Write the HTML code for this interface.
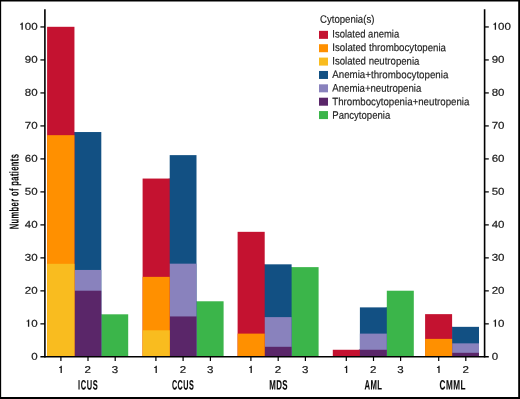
<!DOCTYPE html>
<html><head><meta charset="utf-8"><title>Cytopenia chart</title>
<style>
html,body{margin:0;padding:0;background:#fff;}
body{width:520px;height:399px;overflow:hidden;position:relative;font-family:"Liberation Sans",sans-serif;}
svg{position:absolute;left:0;top:0;display:block;will-change:transform;}
text{font-family:"Liberation Sans",sans-serif;fill:#1a1a1a;}
.n{font-size:9.9px;stroke:#1a1a1a;stroke-width:0.2px;}
.lg{font-size:10.8px;stroke:#1a1a1a;stroke-width:0.15px;}
.c{font-size:13.6px;font-weight:bold;fill:#0a0a0a;stroke:#0a0a0a;stroke-width:0.12px;}
</style></head><body>
<svg width="520" height="399" viewBox="0 0 520 399">
<rect x="0" y="0" width="520" height="399" fill="#fff"/>
<rect x="100.30" y="314.31" width="1.5" height="42.19" fill="#3BB54A"/>
<rect x="101.30" y="314.31" width="26.90" height="42.19" fill="#3BB54A"/>
<rect x="73.45" y="132.04" width="1.5" height="224.46" fill="#125083"/>
<rect x="73.45" y="269.94" width="1.5" height="86.56" fill="#8982BD"/>
<rect x="73.45" y="290.72" width="1.5" height="65.78" fill="#5A2669"/>
<rect x="74.45" y="132.04" width="26.85" height="224.46" fill="#125083"/>
<rect x="74.45" y="269.94" width="26.85" height="86.56" fill="#8982BD"/>
<rect x="74.45" y="290.72" width="26.85" height="65.78" fill="#5A2669"/>
<rect x="47.10" y="26.80" width="27.35" height="329.70" fill="#C41230"/>
<rect x="47.10" y="135.17" width="27.35" height="221.33" fill="#FF9000"/>
<rect x="47.10" y="263.83" width="27.35" height="92.67" fill="#F9BC1F"/>
<rect x="195.50" y="301.28" width="1.5" height="55.22" fill="#3BB54A"/>
<rect x="196.50" y="301.28" width="27.10" height="55.22" fill="#3BB54A"/>
<rect x="168.70" y="178.55" width="1.5" height="177.95" fill="#125083"/>
<rect x="168.70" y="263.67" width="1.5" height="92.83" fill="#8982BD"/>
<rect x="168.70" y="316.45" width="1.5" height="40.05" fill="#5A2669"/>
<rect x="169.70" y="155.13" width="26.80" height="201.37" fill="#125083"/>
<rect x="169.70" y="263.67" width="26.80" height="92.83" fill="#8982BD"/>
<rect x="169.70" y="316.45" width="26.80" height="40.05" fill="#5A2669"/>
<rect x="142.60" y="178.55" width="27.10" height="177.95" fill="#C41230"/>
<rect x="142.60" y="276.86" width="27.10" height="79.64" fill="#FF9000"/>
<rect x="142.60" y="330.31" width="27.10" height="26.19" fill="#F9BC1F"/>
<rect x="290.60" y="267.13" width="1.5" height="89.37" fill="#3BB54A"/>
<rect x="291.60" y="267.13" width="27.00" height="89.37" fill="#3BB54A"/>
<rect x="263.70" y="264.33" width="1.5" height="92.17" fill="#125083"/>
<rect x="263.70" y="317.11" width="1.5" height="39.39" fill="#8982BD"/>
<rect x="263.70" y="346.80" width="1.5" height="9.70" fill="#5A2669"/>
<rect x="264.70" y="264.33" width="26.90" height="92.17" fill="#125083"/>
<rect x="264.70" y="317.11" width="26.90" height="39.39" fill="#8982BD"/>
<rect x="264.70" y="346.80" width="26.90" height="9.70" fill="#5A2669"/>
<rect x="237.60" y="231.83" width="27.10" height="124.67" fill="#C41230"/>
<rect x="237.60" y="333.61" width="27.10" height="22.89" fill="#FF9000"/>
<rect x="385.80" y="307.38" width="1.5" height="49.12" fill="#3BB54A"/>
<rect x="386.80" y="290.72" width="27.00" height="65.78" fill="#3BB54A"/>
<rect x="358.90" y="349.77" width="1.5" height="6.73" fill="#125083"/>
<rect x="358.90" y="349.77" width="1.5" height="6.73" fill="#8982BD"/>
<rect x="358.90" y="349.77" width="1.5" height="6.73" fill="#5A2669"/>
<rect x="359.90" y="307.38" width="26.90" height="49.12" fill="#125083"/>
<rect x="359.90" y="333.61" width="26.90" height="22.89" fill="#8982BD"/>
<rect x="359.90" y="349.77" width="26.90" height="6.73" fill="#5A2669"/>
<rect x="332.80" y="349.77" width="27.10" height="6.73" fill="#C41230"/>
<rect x="451.10" y="326.84" width="1.5" height="29.66" fill="#125083"/>
<rect x="451.10" y="343.34" width="1.5" height="13.16" fill="#8982BD"/>
<rect x="451.10" y="352.81" width="1.5" height="3.69" fill="#5A2669"/>
<rect x="452.10" y="326.84" width="26.90" height="29.66" fill="#125083"/>
<rect x="452.10" y="343.34" width="26.90" height="13.16" fill="#8982BD"/>
<rect x="452.10" y="352.81" width="26.90" height="3.69" fill="#5A2669"/>
<rect x="425.10" y="314.14" width="27.00" height="42.36" fill="#C41230"/>
<rect x="425.10" y="338.89" width="27.00" height="17.61" fill="#FF9000"/>
<g stroke="#000" stroke-width="1.6" fill="none" stroke-linecap="butt">
<line x1="44.9" y1="9.2" x2="44.9" y2="357.50"/>
<line x1="484.6" y1="9.2" x2="484.6" y2="357.50"/>
<line x1="40.4" y1="356.7" x2="488.8" y2="356.7"/>
<line x1="40.4" y1="323.86" x2="44.9" y2="323.86" stroke-width="1.25"/>
<line x1="484.6" y1="323.86" x2="488.8" y2="323.86" stroke-width="1.25"/>
<line x1="40.4" y1="290.87" x2="44.9" y2="290.87" stroke-width="1.25"/>
<line x1="484.6" y1="290.87" x2="488.8" y2="290.87" stroke-width="1.25"/>
<line x1="40.4" y1="257.88" x2="44.9" y2="257.88" stroke-width="1.25"/>
<line x1="484.6" y1="257.88" x2="488.8" y2="257.88" stroke-width="1.25"/>
<line x1="40.4" y1="224.89" x2="44.9" y2="224.89" stroke-width="1.25"/>
<line x1="484.6" y1="224.89" x2="488.8" y2="224.89" stroke-width="1.25"/>
<line x1="40.4" y1="191.90" x2="44.9" y2="191.90" stroke-width="1.25"/>
<line x1="484.6" y1="191.90" x2="488.8" y2="191.90" stroke-width="1.25"/>
<line x1="40.4" y1="158.91" x2="44.9" y2="158.91" stroke-width="1.25"/>
<line x1="484.6" y1="158.91" x2="488.8" y2="158.91" stroke-width="1.25"/>
<line x1="40.4" y1="125.92" x2="44.9" y2="125.92" stroke-width="1.25"/>
<line x1="484.6" y1="125.92" x2="488.8" y2="125.92" stroke-width="1.25"/>
<line x1="40.4" y1="92.93" x2="44.9" y2="92.93" stroke-width="1.25"/>
<line x1="484.6" y1="92.93" x2="488.8" y2="92.93" stroke-width="1.25"/>
<line x1="40.4" y1="59.94" x2="44.9" y2="59.94" stroke-width="1.25"/>
<line x1="484.6" y1="59.94" x2="488.8" y2="59.94" stroke-width="1.25"/>
<line x1="40.4" y1="26.95" x2="44.9" y2="26.95" stroke-width="1.25"/>
<line x1="484.6" y1="26.95" x2="488.8" y2="26.95" stroke-width="1.25"/>
<line x1="60.90" y1="356.7" x2="60.90" y2="361.0" stroke-width="1.2"/>
<line x1="88.00" y1="356.7" x2="88.00" y2="361.0" stroke-width="1.2"/>
<line x1="115.20" y1="356.7" x2="115.20" y2="361.0" stroke-width="1.2"/>
<line x1="155.90" y1="356.7" x2="155.90" y2="361.0" stroke-width="1.2"/>
<line x1="183.10" y1="356.7" x2="183.10" y2="361.0" stroke-width="1.2"/>
<line x1="210.40" y1="356.7" x2="210.40" y2="361.0" stroke-width="1.2"/>
<line x1="250.90" y1="356.7" x2="250.90" y2="361.0" stroke-width="1.2"/>
<line x1="278.20" y1="356.7" x2="278.20" y2="361.0" stroke-width="1.2"/>
<line x1="305.40" y1="356.7" x2="305.40" y2="361.0" stroke-width="1.2"/>
<line x1="346.30" y1="356.7" x2="346.30" y2="361.0" stroke-width="1.2"/>
<line x1="373.50" y1="356.7" x2="373.50" y2="361.0" stroke-width="1.2"/>
<line x1="400.60" y1="356.7" x2="400.60" y2="361.0" stroke-width="1.2"/>
<line x1="438.70" y1="356.7" x2="438.70" y2="361.0" stroke-width="1.2"/>
<line x1="465.80" y1="356.7" x2="465.80" y2="361.0" stroke-width="1.2"/>
</g>
<text class="n" transform="translate(31.29,359.65) scale(1.165,1) rotate(0.06)">0</text>
<text class="n" transform="translate(491.70,359.65) scale(1.165,1) rotate(0.06)">0</text>
<path fill="#1a1a1a" d="M29.22 326.66V319.46H28.27C28.12 320.36 27.32 320.81 26.52 320.81V321.61H27.92V326.66Z"/>
<text class="n" transform="translate(31.29,326.66) scale(1.165,1) rotate(0.06)">0</text>
<path fill="#1a1a1a" d="M496.05 326.66V319.46H495.10C494.95 320.36 494.15 320.81 493.35 320.81V321.61H494.75V326.66Z"/>
<text class="n" transform="translate(498.11,326.66) scale(1.165,1) rotate(0.06)">0</text>
<text class="n" transform="translate(24.87,293.67) scale(1.165,1) rotate(0.06)">20</text>
<text class="n" transform="translate(491.70,293.67) scale(1.165,1) rotate(0.06)">20</text>
<text class="n" transform="translate(24.87,260.68) scale(1.165,1) rotate(0.06)">30</text>
<text class="n" transform="translate(491.70,260.68) scale(1.165,1) rotate(0.06)">30</text>
<text class="n" transform="translate(24.87,227.69) scale(1.165,1) rotate(0.06)">40</text>
<text class="n" transform="translate(491.70,227.69) scale(1.165,1) rotate(0.06)">40</text>
<text class="n" transform="translate(24.87,194.70) scale(1.165,1) rotate(0.06)">50</text>
<text class="n" transform="translate(491.70,194.70) scale(1.165,1) rotate(0.06)">50</text>
<text class="n" transform="translate(24.87,161.71) scale(1.165,1) rotate(0.06)">60</text>
<text class="n" transform="translate(491.70,161.71) scale(1.165,1) rotate(0.06)">60</text>
<text class="n" transform="translate(24.87,128.72) scale(1.165,1) rotate(0.06)">70</text>
<text class="n" transform="translate(491.70,128.72) scale(1.165,1) rotate(0.06)">70</text>
<text class="n" transform="translate(24.87,95.73) scale(1.165,1) rotate(0.06)">80</text>
<text class="n" transform="translate(491.70,95.73) scale(1.165,1) rotate(0.06)">80</text>
<text class="n" transform="translate(24.87,62.74) scale(1.165,1) rotate(0.06)">90</text>
<text class="n" transform="translate(491.70,62.74) scale(1.165,1) rotate(0.06)">90</text>
<path fill="#1a1a1a" d="M22.81 29.75V22.55H21.86C21.71 23.45 20.91 23.90 20.11 23.90V24.70H21.51V29.75Z"/>
<text class="n" transform="translate(24.87,29.75) scale(1.165,1) rotate(0.06)">00</text>
<path fill="#1a1a1a" d="M496.05 29.75V22.55H495.10C494.95 23.45 494.15 23.90 493.35 23.90V24.70H494.75V29.75Z"/>
<text class="n" transform="translate(498.11,29.75) scale(1.165,1) rotate(0.06)">00</text>
<path fill="#1a1a1a" d="M61.84 373.00V365.80H60.89C60.74 366.70 59.94 367.15 59.14 367.15V367.95H60.54V373.00Z"/>
<text class="n" transform="translate(84.59,373.00) scale(1.165,1) rotate(0.06)">2</text>
<text class="n" transform="translate(111.79,373.00) scale(1.165,1) rotate(0.06)">3</text>
<path fill="#1a1a1a" d="M156.84 373.00V365.80H155.89C155.74 366.70 154.94 367.15 154.14 367.15V367.95H155.54V373.00Z"/>
<text class="n" transform="translate(179.69,373.00) scale(1.165,1) rotate(0.06)">2</text>
<text class="n" transform="translate(206.99,373.00) scale(1.165,1) rotate(0.06)">3</text>
<path fill="#1a1a1a" d="M251.84 373.00V365.80H250.89C250.74 366.70 249.94 367.15 249.14 367.15V367.95H250.54V373.00Z"/>
<text class="n" transform="translate(274.79,373.00) scale(1.165,1) rotate(0.06)">2</text>
<text class="n" transform="translate(301.99,373.00) scale(1.165,1) rotate(0.06)">3</text>
<path fill="#1a1a1a" d="M347.24 373.00V365.80H346.29C346.14 366.70 345.34 367.15 344.54 367.15V367.95H345.94V373.00Z"/>
<text class="n" transform="translate(370.09,373.00) scale(1.165,1) rotate(0.06)">2</text>
<text class="n" transform="translate(397.19,373.00) scale(1.165,1) rotate(0.06)">3</text>
<path fill="#1a1a1a" d="M439.64 373.00V365.80H438.69C438.54 366.70 437.74 367.15 436.94 367.15V367.95H438.34V373.00Z"/>
<text class="n" transform="translate(462.39,373.00) scale(1.165,1) rotate(0.06)">2</text>
<text class="c" transform="translate(78.1,389.5) scale(0.55,1) rotate(0.06)" textLength="35.6" lengthAdjust="spacing">ICUS</text>
<text class="c" transform="translate(171.9,389.5) scale(0.53,1) rotate(0.06)" textLength="41.3" lengthAdjust="spacing">CCUS</text>
<text class="c" transform="translate(269.2,389.5) scale(0.58,1) rotate(0.06)" textLength="31.6" lengthAdjust="spacing">MDS</text>
<text class="c" transform="translate(364.6,389.5) scale(0.565,1) rotate(0.06)" textLength="30.6" lengthAdjust="spacing">AML</text>
<text class="c" transform="translate(439.6,389.5) scale(0.6,1) rotate(0.06)" textLength="43.0" lengthAdjust="spacing">CMML</text>
<text class="c" transform="translate(18.6,229.3) rotate(-90.06) scale(0.59,1)" textLength="127.5" lengthAdjust="spacing" style="font-size:12.8px">Number of patients</text>
<text class="lg" transform="translate(320.0,22.7) rotate(0.06)" textLength="54.4" lengthAdjust="spacingAndGlyphs">Cytopenia(s)</text>
<rect x="319" y="30.85" width="9" height="8" fill="#C41230"/>
<text class="lg" transform="translate(332.3,37.50) rotate(0.06)" textLength="66.9" lengthAdjust="spacingAndGlyphs">Isolated anemia</text>
<rect x="319" y="44.22" width="9" height="8" fill="#FF9000"/>
<text class="lg" transform="translate(332.3,51.03) rotate(0.06)" textLength="113.7" lengthAdjust="spacingAndGlyphs">Isolated thrombocytopenia</text>
<rect x="319" y="57.59" width="9" height="8" fill="#F9BC1F"/>
<text class="lg" transform="translate(332.3,64.56) rotate(0.06)" textLength="87.1" lengthAdjust="spacingAndGlyphs">Isolated neutropenia</text>
<rect x="319" y="70.96" width="9" height="8" fill="#125083"/>
<text class="lg" transform="translate(332.3,78.09) rotate(0.06)" textLength="116.0" lengthAdjust="spacingAndGlyphs">Anemia+thrombocytopenia</text>
<rect x="319" y="84.33" width="9" height="8" fill="#8982BD"/>
<text class="lg" transform="translate(332.3,91.62) rotate(0.06)" textLength="89.0" lengthAdjust="spacingAndGlyphs">Anemia+neutropenia</text>
<rect x="319" y="97.70" width="9" height="8" fill="#5A2669"/>
<text class="lg" transform="translate(332.3,105.15) rotate(0.06)" textLength="137.1" lengthAdjust="spacingAndGlyphs">Thrombocytopenia+neutropenia</text>
<rect x="319" y="111.07" width="9" height="8" fill="#3BB54A"/>
<text class="lg" transform="translate(332.3,118.68) rotate(0.06)" textLength="57.9" lengthAdjust="spacingAndGlyphs">Pancytopenia</text>
<path d="M0 0H520V399H0Z M1.15 1.4V396.9H518.2V1.4Z" fill="#000" fill-rule="evenodd"/>
</svg></body></html>
